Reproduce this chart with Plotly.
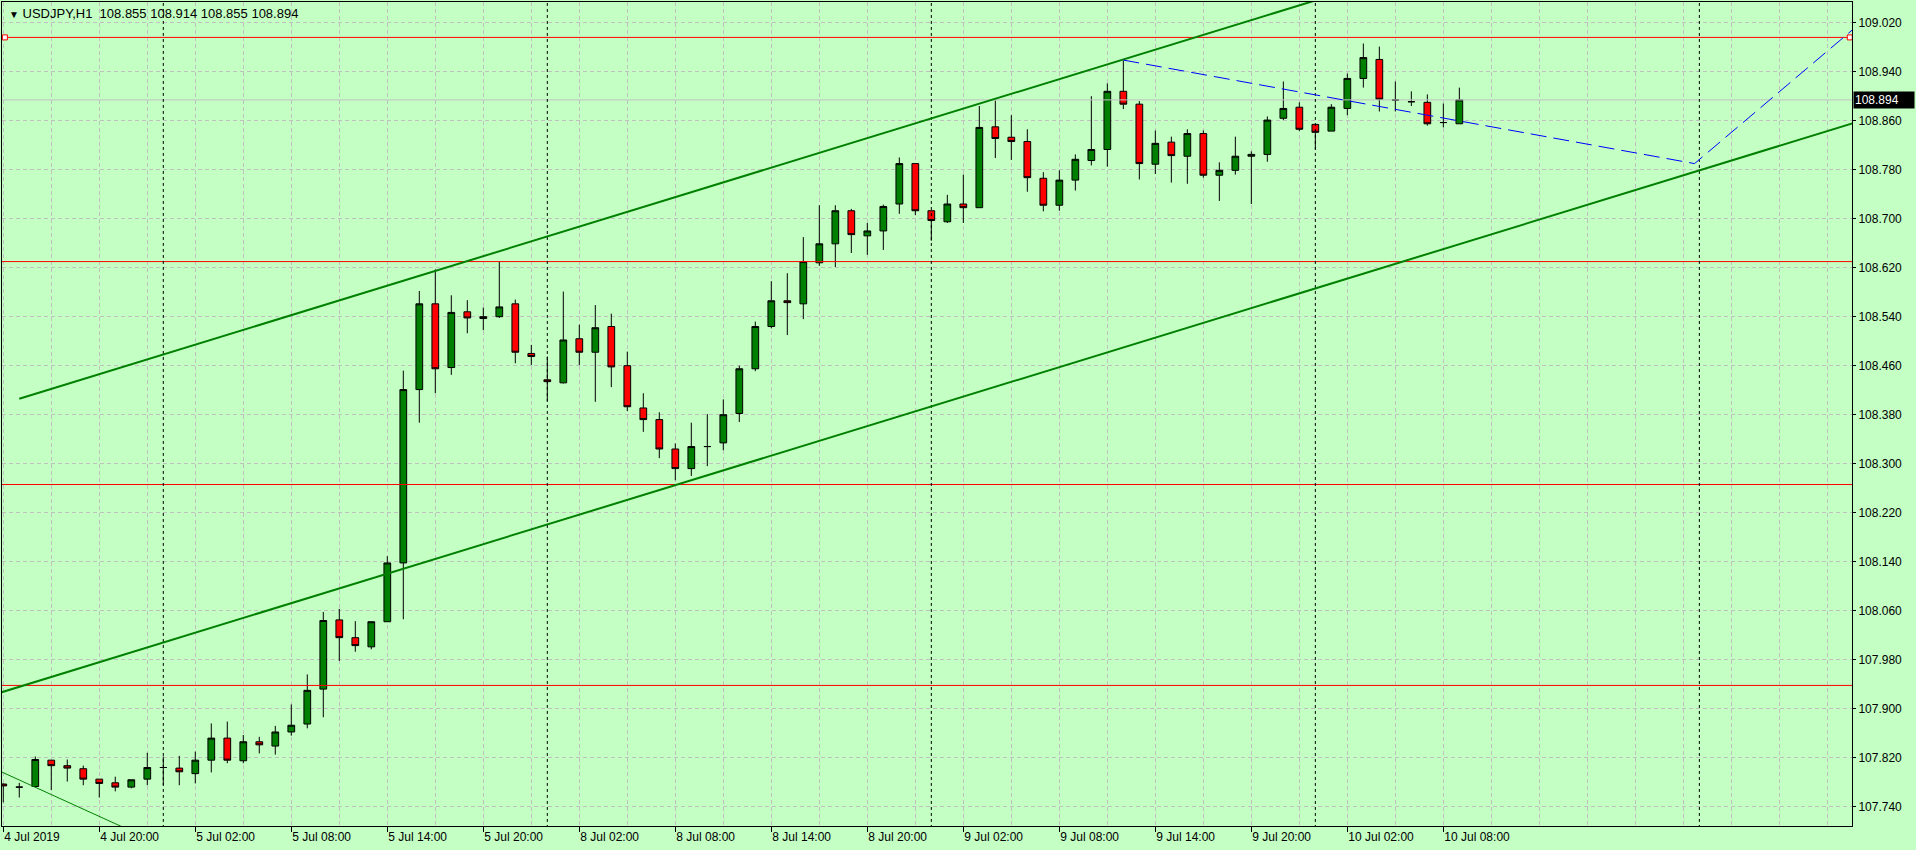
import plotly.graph_objects as go

FONT = "Liberation Sans, Arial, sans-serif"
BG = "#C4FFC4"
GRID = "#C0C0C0"

# USDJPY H1, one bar per hour: 4 Jul 14:00 .. 5 Jul 23:00, then 8 Jul 00:00 .. 10 Jul 09:00
opens = [
    107.777, 107.772, 107.773, 107.816, 107.807, 107.802, 107.785, 107.779, 107.772, 107.785,
    107.804, 107.803, 107.794, 107.816, 107.852, 107.815, 107.846, 107.839, 107.862, 107.875,
    107.932, 108.045, 108.016, 108.001, 108.042, 108.138, 108.421, 108.561, 108.457, 108.548,
    108.537, 108.540, 108.561, 108.480, 108.437, 108.432, 108.504, 108.482, 108.524, 108.460,
    108.391, 108.372, 108.324, 108.292, 108.328, 108.334, 108.382, 108.455, 108.524, 108.566,
    108.561, 108.628, 108.659, 108.713, 108.672, 108.680, 108.724, 108.790, 108.713, 108.695,
    108.724, 108.718, 108.850, 108.833, 108.826, 108.766, 108.722, 108.763, 108.795, 108.813,
    108.908, 108.887, 108.789, 108.825, 108.802, 108.839, 108.771, 108.779, 108.802, 108.805,
    108.864, 108.882, 108.854, 108.843, 108.880, 108.929, 108.960, 108.894, 108.891, 108.890,
    108.857, 108.855,
]
highs = [
    107.778, 107.779, 107.822, 107.816, 107.817, 107.807, 107.785, 107.789, 107.784, 107.828,
    107.822, 107.823, 107.830, 107.876, 107.879, 107.857, 107.854, 107.872, 107.907, 107.956,
    108.058, 108.063, 108.043, 108.042, 108.149, 108.452, 108.582, 108.617, 108.575, 108.567,
    108.555, 108.630, 108.568, 108.494, 108.475, 108.581, 108.527, 108.559, 108.545, 108.483,
    108.415, 108.384, 108.333, 108.367, 108.381, 108.405, 108.460, 108.532, 108.598, 108.611,
    108.670, 108.722, 108.722, 108.716, 108.693, 108.723, 108.800, 108.790, 108.713, 108.739,
    108.772, 108.884, 108.893, 108.869, 108.846, 108.776, 108.779, 108.805, 108.900, 108.921,
    108.958, 108.892, 108.844, 108.834, 108.846, 108.844, 108.792, 108.834, 108.810, 108.867,
    108.924, 108.890, 108.854, 108.887, 108.937, 108.986, 108.981, 108.924, 108.908, 108.903,
    108.888, 108.914,
]
lows = [
    107.747, 107.755, 107.773, 107.767, 107.781, 107.775, 107.755, 107.765, 107.770, 107.775,
    107.775, 107.775, 107.778, 107.796, 107.811, 107.811, 107.827, 107.825, 107.856, 107.868,
    107.886, 107.978, 107.993, 107.997, 108.042, 108.046, 108.367, 108.415, 108.445, 108.513,
    108.518, 108.538, 108.464, 108.461, 108.402, 108.431, 108.461, 108.401, 108.425, 108.386,
    108.352, 108.309, 108.273, 108.280, 108.296, 108.322, 108.368, 108.451, 108.521, 108.510,
    108.536, 108.623, 108.621, 108.644, 108.641, 108.649, 108.708, 108.706, 108.664, 108.693,
    108.693, 108.718, 108.799, 108.796, 108.744, 108.712, 108.713, 108.746, 108.787, 108.785,
    108.879, 108.764, 108.773, 108.759, 108.757, 108.767, 108.729, 108.772, 108.724, 108.793,
    108.861, 108.843, 108.813, 108.843, 108.869, 108.914, 108.875, 108.875, 108.884, 108.852,
    108.849, 108.855,
]
closes = [
    107.774, 107.772, 107.817, 107.807, 107.803, 107.785, 107.778, 107.772, 107.784, 107.804,
    107.804, 107.797, 107.816, 107.852, 107.816, 107.846, 107.841, 107.862, 107.873, 107.930,
    108.044, 108.016, 108.003, 108.042, 108.138, 108.421, 108.561, 108.455, 108.547, 108.538,
    108.540, 108.556, 108.482, 108.475, 108.434, 108.502, 108.482, 108.522, 108.458, 108.393,
    108.372, 108.324, 108.292, 108.328, 108.328, 108.380, 108.455, 108.524, 108.566, 108.563,
    108.630, 108.659, 108.713, 108.674, 108.680, 108.720, 108.790, 108.713, 108.697, 108.724,
    108.718, 108.849, 108.831, 108.826, 108.767, 108.722, 108.763, 108.797, 108.813, 108.908,
    108.887, 108.790, 108.823, 108.803, 108.839, 108.771, 108.779, 108.802, 108.805, 108.861,
    108.880, 108.846, 108.841, 108.882, 108.929, 108.963, 108.895, 108.894, 108.891, 108.855,
    108.857, 108.894,
]

tick_bars = [0, 6, 12, 18, 24, 30, 36, 42, 48, 54, 60, 66, 72, 78, 84, 90]
tick_labels = [
    "4 Jul 2019", "4 Jul 20:00", "5 Jul 02:00", "5 Jul 08:00", "5 Jul 14:00", "5 Jul 20:00",
    "8 Jul 02:00", "8 Jul 08:00", "8 Jul 14:00", "8 Jul 20:00", "9 Jul 02:00", "9 Jul 08:00",
    "9 Jul 14:00", "9 Jul 20:00", "10 Jul 02:00", "10 Jul 08:00",
]
day_breaks = [10, 34, 58, 82, 106]

levels = [108.996, 108.630, 108.266, 107.938]
last_price = 108.894

# drawn objects, anchored as (bar, price)
channel_a = (1, 108.406)
channel_b = (70, 108.960)
channel_c = (42, 108.265)
thin_a = (-0.04, 107.796)
thin_b = (7.19, 107.710)
blue_bars = [70, 105.7, 116.5]
blue_prices = [108.959, 108.790, 109.029]

X_RANGE = [-0.08, 115.54]
Y_RANGE = [107.7085, 109.0538]


def ray(p1, p2, x0, x1):
    slope = (p2[1] - p1[1]) / (p2[0] - p1[0])
    return [x0, x1], [p1[1] + (x0 - p1[0]) * slope, p1[1] + (x1 - p1[0]) * slope]


bars = list(range(len(opens)))
fig = go.Figure()

# current price line
fig.add_trace(go.Scatter(x=[-5, 125], y=[last_price, last_price], mode="lines",
                         line=dict(color="#C0C0C0", width=1), hoverinfo="skip"))

for lv in levels:
    fig.add_trace(go.Scatter(x=[-5, 125], y=[lv, lv], mode="lines",
                             line=dict(color="#FF0000", width=1), hoverinfo="skip"))

sep_x, sep_y = [], []
for b in day_breaks:
    sep_x += [b, b, None]
    sep_y += [107.0, 110.0, None]
fig.add_trace(go.Scatter(x=sep_x, y=sep_y, mode="lines",
                         line=dict(color="black", width=1, dash="3px,3px"), hoverinfo="skip"))

ux, uy = ray(channel_a, channel_b, channel_a[0], 130)
fig.add_trace(go.Scatter(x=ux, y=uy, mode="lines", line=dict(color="#008000", width=2),
                         hoverinfo="skip"))
lower_b = (channel_c[0] + 10, channel_c[1] + 10 * (channel_b[1] - channel_a[1]) / (channel_b[0] - channel_a[0]))
lx, ly = ray(channel_c, lower_b, -3, 130)
fig.add_trace(go.Scatter(x=lx, y=ly, mode="lines", line=dict(color="#008000", width=2),
                         hoverinfo="skip"))

tx, ty = ray(thin_a, thin_b, -3, 12)
fig.add_trace(go.Scatter(x=tx, y=ty, mode="lines", line=dict(color="#008000", width=1),
                         hoverinfo="skip"))

fig.add_trace(go.Scatter(x=blue_bars, y=blue_prices, mode="lines",
                         line=dict(color="#0000FF", width=1, dash="16px,7px"), hoverinfo="skip"))

fig.add_trace(go.Candlestick(
    x=bars, open=opens, high=highs, low=lows, close=closes,
    increasing=dict(fillcolor="#008000", line=dict(color="black", width=1)),
    decreasing=dict(fillcolor="#FF0000", line=dict(color="black", width=1)),
    whiskerwidth=0, hoverinfo="skip",
))

# selection handles of the top level line
fig.add_trace(go.Scatter(x=[0.1, 115.4], y=[levels[0], levels[0]], mode="markers",
                         marker=dict(symbol="square", size=5, color="white",
                                     line=dict(color="#FF0000", width=1)),
                         cliponaxis=False, hoverinfo="skip"))

fig.update_layout(
    width=1916, height=850,
    margin=dict(l=2, r=64, t=2, b=24, pad=0),
    paper_bgcolor=BG, plot_bgcolor=BG,
    showlegend=False,
    boxgap=0.4,
    font=dict(family=FONT, size=12, color="black"),
    xaxis=dict(
        range=X_RANGE, rangeslider=dict(visible=False),
        tickmode="array", tickvals=tick_bars, ticktext=tick_labels,
        ticks="outside", ticklen=5, tickcolor="black",
        ticklabelposition="outside right",
        showline=True, linecolor="black", linewidth=1, mirror=True,
        showgrid=True, gridcolor=GRID, griddash="4px,3px", gridwidth=1,
        minor=dict(tickmode="linear", tick0=0, dtick=3, showgrid=True,
                   gridcolor=GRID, griddash="4px,3px", gridwidth=1, ticks=""),
        zeroline=False, fixedrange=True,
        tickfont=dict(family=FONT, size=12, color="black"),
    ),
    yaxis=dict(
        range=Y_RANGE, side="right",
        tickmode="linear", tick0=107.74, dtick=0.08, tickformat=".3f",
        ticks="outside", ticklen=3, tickcolor="black",
        showline=True, linecolor="black", linewidth=1, mirror=True,
        showgrid=True, gridcolor=GRID, griddash="4px,3px", gridwidth=1,
        zeroline=False, fixedrange=True,
        tickfont=dict(family=FONT, size=12, color="black"),
    ),
    annotations=[
        dict(xref="paper", yref="paper", x=0, y=1, xanchor="left", yanchor="top",
             xshift=5, yshift=-2, showarrow=False, align="left",
             text="<span style='font-size:10px'>▼</span> USDJPY,H1\u00a0\u00a0108.855 108.914 108.855 108.894",
             font=dict(family=FONT, size=13, color="black")),
        dict(xref="paper", yref="y", x=1, y=last_price, xanchor="left", yanchor="middle",
             xshift=1, showarrow=False, text="108.894", bgcolor="black", borderpad=1,
             width=58, align="left",
             font=dict(family=FONT, size=12, color="white")),
    ],
)

fig.write_html("out.html", config={"displayModeBar": False},
               post_script="document.body.style.margin='0';document.body.style.overflow='hidden';")
